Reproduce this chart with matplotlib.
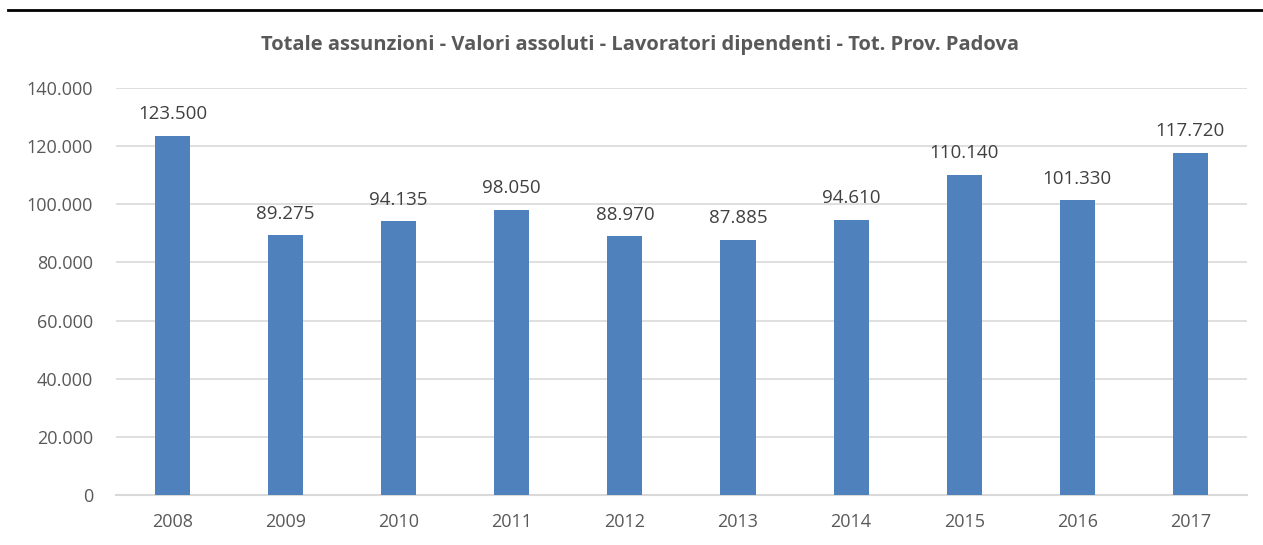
import matplotlib.pyplot as plt
from matplotlib.lines import Line2D
from matplotlib.ticker import FuncFormatter

years = ['2008', '2009', '2010', '2011', '2012', '2013', '2014', '2015', '2016', '2017']
assunzioni = [123500, 89275, 94135, 98050, 88970, 87885, 94610, 110140, 101330, 117720]
yticks = [0, 20000, 40000, 60000, 80000, 100000, 120000, 140000]


def ita(v, pos=None):
    return f'{int(v):,}'.replace(',', '.')


plt.rcParams['font.family'] = ['Open Sans', 'DejaVu Sans']

fig = plt.figure(figsize=(12.63, 5.45), dpi=100)
ax = fig.add_axes([0.0918, 0.0917, 0.8955, 0.7468])

x = range(len(years))
bars = ax.bar(x, assunzioni, width=0.31, color='#4F81BD', zorder=3)
for b, v in zip(bars, assunzioni):
    ax.text(b.get_x() + b.get_width() / 2, v + 4300, ita(v),
            ha='center', va='bottom', fontsize=13.5, color='#404040')

ax.set_xlim(-0.5, len(years) - 0.5)
ax.set_ylim(0, 140000)
ax.set_yticks(yticks)
ax.yaxis.set_major_formatter(FuncFormatter(ita))
ax.set_xticks(list(x))
ax.set_xticklabels(years)
ax.grid(axis='y', color='#D9D9D9', linewidth=1.2, zorder=0)
for s in ['top', 'right', 'left']:
    ax.spines[s].set_visible(False)
ax.spines['bottom'].set_color('#D9D9D9')
ax.spines['bottom'].set_linewidth(1.5)
ax.tick_params(axis='both', length=0, labelsize=13, colors='#595959')
ax.tick_params(axis='y', pad=16.5)
ax.tick_params(axis='x', pad=13)

fig.text(0.507, 0.917, 'Totale assunzioni - Valori assoluti - Lavoratori dipendenti - Tot. Prov. Padova',
         ha='center', va='center', fontsize=14.5, fontweight='bold', color='#595959')

fig.add_artist(Line2D([8 / 1263, 1.0], [1 - 10 / 545, 1 - 10 / 545],
                      transform=fig.transFigure, color='black', linewidth=2))

fig.savefig('out.png', dpi=100)
